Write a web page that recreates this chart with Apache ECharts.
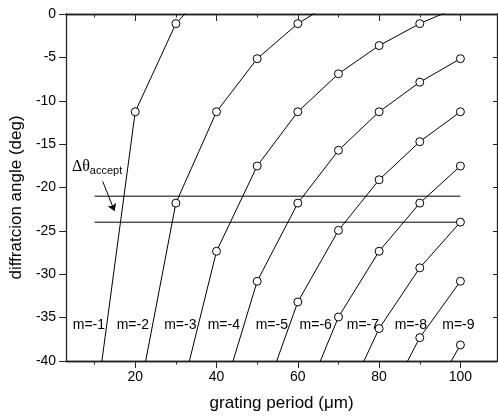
<!DOCTYPE html>
<html>
<head>
<meta charset="utf-8">
<script src="https://cdn.jsdelivr.net/npm/echarts@6/dist/echarts.min.js"></script>
<style>
  html, body { margin: 0; padding: 0; background: #fff; }
  #chart { width: 498px; height: 417px; }
</style>
</head>
<body>
<div id="chart"></div>
<script>
// grating period (um), one value per data column
const periods = [10, 20, 30, 40, 50, 60, 70, 80, 90, 100]

// diffraction angle (deg) for each order, null = no point
const orderM1 = [-46.3, -11.27, -1.11, 3.93, null, null, null, null, null, null]
const orderM2 = [null, -46.3, -21.8, -11.27, -5.15, -1.11, 1.77, null, null, null]
const orderM3 = [null, null, -46.3, -27.35, -17.52, -11.27, -6.89, -3.64, -1.11, 0.91]
const orderM4 = [null, null, null, -46.3, -30.81, -21.8, -15.71, -11.27, -7.86, -5.15]
const orderM5 = [null, null, null, null, -46.3, -33.19, -24.94, -19.11, -14.72, -11.27]
const orderM6 = [null, null, null, null, null, -46.3, -34.93, -27.35, -21.8, -17.52]
const orderM7 = [null, null, null, null, null, null, -46.3, -36.26, -29.26, -23.99]
const orderM8 = [null, null, null, null, null, null, null, -46.3, -37.31, -30.81]
const orderM9 = [null, null, null, null, null, null, null, null, -46.3, -38.15]
const orders = [orderM1, orderM2, orderM3, orderM4, orderM5, orderM6, orderM7, orderM8, orderM9]

const orderNames = ['m=-1', 'm=-2', 'm=-3', 'm=-4', 'm=-5', 'm=-6', 'm=-7', 'm=-8', 'm=-9']
const orderLabelX = [8.6, 19.4, 31.1, 41.8, 53.6, 64.4, 76.0, 87.8, 99.5]
const orderLabelY = -35.9

// acceptance band
const acceptLimits = [-21, -24]
const acceptFrom = 10
const acceptTo = 100
const arrowFrom = [12.0, -19.3]
const arrowTo = [14.9, -22.7]
const deltaLabelPos = [4.3, -17.6]

const majorX = [20, 40, 60, 80, 100]
const minorX = [10, 30, 50, 70, 90]

const font = 'Liberation Sans, Arial, sans-serif'
const ink = '#000'
const axisInk = '#222'

function xAxisOpt(pos, values, len, inside, extra) {
    return Object.assign({
        type: 'value',
        position: pos,
        min: 3,
        max: 109,
        axisLine: { show: true, onZero: false, lineStyle: { color: axisInk, width: 1.3 } },
        axisTick: { show: true, inside: inside, length: len, customValues: values, lineStyle: { color: axisInk, width: 1 } },
        axisLabel: { show: false },
        splitLine: { show: false }
    }, extra || {})
}

const series = orders.map(function (arr, k) {
    return {
        type: 'line',
        name: orderNames[k],
        clip: true,
        symbol: 'circle',
        symbolSize: 8,
        showAllSymbol: true,
        itemStyle: { color: '#fff', borderColor: ink, borderWidth: 1 },
        lineStyle: { color: ink, width: 1 },
        data: periods.map(function (d, i) { return [d, arr[i]] }).filter(function (p) { return p[1] !== null }),
        z: 3
    }
})

acceptLimits.forEach(function (v) {
    series.push({
        type: 'line',
        symbol: 'none',
        lineStyle: { color: ink, width: 1 },
        data: [[acceptFrom, v], [acceptTo, v]],
        z: 2
    })
})

series.push({
    type: 'lines',
    coordinateSystem: 'cartesian2d',
    symbol: ['none', 'arrow'],
    symbolSize: [0, 7],
    lineStyle: { color: ink, width: 1, opacity: 1 },
    data: [{ coords: [arrowFrom, arrowTo] }],
    z: 4
})

// text marks placed at data positions
series.push({
    type: 'scatter',
    symbolSize: 1,
    itemStyle: { opacity: 0 },
    silent: true,
    clip: false,
    label: {
        show: true,
        position: 'inside',
        color: ink,
        opacity: 1,
        fontFamily: font,
        fontSize: 14,
        formatter: function (p) { return orderNames[p.dataIndex] }
    },
    data: orderLabelX.map(function (x) { return [x, orderLabelY] }),
    z: 5
})

series.push({
    type: 'scatter',
    symbolSize: 1,
    itemStyle: { opacity: 0 },
    silent: true,
    clip: false,
    label: {
        show: true,
        position: 'right',
        distance: 0,
        opacity: 1,
        formatter: '{d|\u0394\u03b8}{s|accept}',
        rich: {
            d: { fontFamily: 'Liberation Serif, Times New Roman, serif', fontSize: 16, color: ink },
            s: { fontFamily: font, fontSize: 11, color: ink, padding: [9, 0, 0, 0] }
        }
    },
    data: [deltaLabelPos],
    z: 5
})

const chart = echarts.init(document.getElementById('chart'), null, { renderer: 'canvas' })
chart.setOption({
    animation: false,
    backgroundColor: '#fff',
    textStyle: { fontFamily: font },
    grid: { left: 64, top: 14, right: 1, bottom: 54, containLabel: false },
    xAxis: [
        xAxisOpt('bottom', majorX, 7, false, {
            axisLabel: { show: true, customValues: majorX, color: ink, fontSize: 14, fontFamily: font, margin: 9 },
            name: 'grating period (\u03bcm)',
            nameLocation: 'middle',
            nameGap: 34,
            nameTextStyle: { color: ink, fontSize: 17, fontFamily: font }
        }),
        xAxisOpt('bottom', minorX, 3.5, false),
        xAxisOpt('top', majorX, 7, true),
        xAxisOpt('top', minorX, 3.5, true)
    ],
    yAxis: [
        {
            type: 'value',
            position: 'left',
            min: -40,
            max: 0,
            interval: 5,
            axisLine: { show: true, onZero: false, lineStyle: { color: axisInk, width: 1.3 } },
            axisTick: { show: true, inside: false, length: 7, lineStyle: { color: axisInk } },
            axisLabel: { color: ink, fontSize: 14, fontFamily: font, margin: 10 },
            splitLine: { show: false },
            name: 'diffratcion angle (deg)',
            nameLocation: 'middle',
            nameGap: 38,
            nameTextStyle: { color: ink, fontSize: 17, fontFamily: font, padding: [0, 20, 0, 0] }
        },
        {
            type: 'value',
            position: 'right',
            min: -40,
            max: 0,
            interval: 5,
            axisLine: { show: true, onZero: false, lineStyle: { color: axisInk, width: 1.3 } },
            axisTick: { show: true, inside: true, length: 4, lineStyle: { color: axisInk } },
            axisLabel: { show: false },
            splitLine: { show: false }
        }
    ],
    series: series
})
</script>
</body>
</html>
